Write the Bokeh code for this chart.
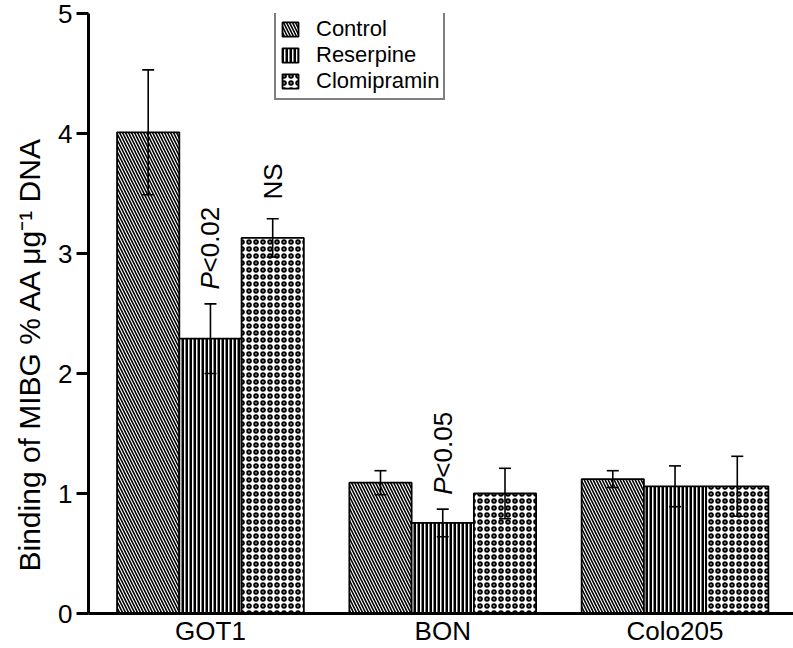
import numpy as np
from bokeh.plotting import figure
from bokeh.models import (ColumnDataSource, Whisker, TeeHead, Legend, LegendItem,
                          FixedTicker, Range1d, Label, Title)
from bokeh.embed import file_html
from bokeh.resources import INLINE

# ---- data ----
cell_lines = ["GOT1", "BON", "Colo205"]
treatments = ["Control", "Reserpine", "Clomipramin"]
control_mean = [4.01, 1.09, 1.12]
control_err = [0.52, 0.10, 0.07]
reserpine_mean = [2.29, 0.755, 1.06]
reserpine_err = [0.29, 0.115, 0.17]
clomipramin_mean = [3.13, 1.00, 1.06]
clomipramin_err = [0.16, 0.21, 0.25]
annotations = ["P", "<0.02", "NS", "P", "<0.05"]
y_ticks = [0, 1, 2, 3, 4, 5]
y_label = "Binding of MIBG % AA μg⁻¹ DNA"

FONT = "Liberation Sans"
BAR_W = 0.268
offsets = [-BAR_W, 0.0, BAR_W]
hatches = ["\\", "|", "o"]
hscale = [6, 4, 7]
hweight = [1.6, 3.0, 2.0]

p = figure(width=793, height=648, output_backend="svg", toolbar_location=None,
           x_range=Range1d(-0.525, 2.51), y_range=Range1d(0, 5),
           min_border_left=88, min_border_right=0, min_border_top=13, min_border_bottom=30)
p.grid.visible = False
p.outline_line_color = None
p.background_fill_color = "white"

series = [(control_mean, control_err), (reserpine_mean, reserpine_err),
          (clomipramin_mean, clomipramin_err)]
renderers = []
group_x = np.arange(len(cell_lines))
for i, (m, e) in enumerate(series):
    x = group_x + offsets[i]
    m = np.array(m); e = np.array(e)
    src = ColumnDataSource(dict(x=x, top=m, upper=m + e, lower=m - e))
    r = p.vbar(x="x", top="top", width=BAR_W, source=src, fill_color="white",
               line_color="black", line_width=1.8,
               hatch_pattern=hatches[i], hatch_color="black",
               hatch_scale=hscale[i], hatch_weight=hweight[i])
    renderers.append(r)
    w = Whisker(base="x", upper="upper", lower="lower", source=src,
                line_color="black", line_width=1.6, level="overlay",
                upper_head=TeeHead(size=12, line_color="black", line_width=1.6),
                lower_head=TeeHead(size=12, line_color="black", line_width=1.6))
    p.add_layout(w)

# significance annotations (rotated)
ann_specs = [
    (annotations[0], group_x[0] + offsets[1], 2.70, 0, "italic"),
    (annotations[1], group_x[0] + offsets[1], 2.70, 17, "normal"),
    (annotations[2], group_x[0] + offsets[2], 3.45, 0, "normal"),
    (annotations[3], group_x[1] + offsets[1], 0.99, 0, "italic"),
    (annotations[4], group_x[1] + offsets[1], 0.99, 17, "normal"),
]
for txt, x, y, yoff, style in ann_specs:
    p.add_layout(Label(x=x, y=y, y_offset=yoff, text=txt, angle=np.pi / 2,
                       text_align="left", text_baseline="middle",
                       text_font=FONT, text_font_size="26px",
                       text_font_style=style, text_color="black"))

# y-axis title as a side title (allows shifting it along the axis)
p.add_layout(Title(text=y_label, align="left", offset=42, standoff=20,
                   text_font=FONT, text_font_size="30px", text_font_style="normal",
                   text_color="black"), "left")

# axes
p.yaxis.ticker = FixedTicker(ticks=y_ticks)
p.yaxis.minor_tick_line_color = None
p.yaxis.axis_line_width = 3
p.yaxis.major_tick_line_width = 3
p.yaxis.major_tick_out = 12
p.yaxis.major_tick_in = 0
p.yaxis.major_label_text_font = FONT
p.yaxis.major_label_text_font_size = "26px"
p.yaxis.major_label_text_color = "black"
p.yaxis.major_label_standoff = 4

p.xaxis.ticker = FixedTicker(ticks=list(group_x))
p.xaxis.major_label_overrides = {int(i): n for i, n in zip(group_x, cell_lines)}
p.xaxis.major_tick_line_color = None
p.xaxis.major_tick_out = 0
p.xaxis.major_tick_in = 0
p.xaxis.minor_tick_line_color = None
p.xaxis.minor_tick_out = 0
p.xaxis.axis_line_width = 3
p.xaxis.major_label_text_font = FONT
p.xaxis.major_label_text_font_size = "26px"
p.xaxis.major_label_text_color = "black"
p.xaxis.major_label_standoff = 2

legend = Legend(items=[LegendItem(label=t, renderers=[r]) for t, r in zip(treatments, renderers)],
                location=(186, 513), orientation="vertical",
                label_text_font=FONT, label_text_font_size="22px", label_text_color="black",
                glyph_width=20, glyph_height=18, label_standoff=16,
                label_height=22, spacing=0, padding=4, margin=0,
                border_line_color="black", border_line_width=2.5,
                background_fill_color="white", background_fill_alpha=1)
p.add_layout(legend)

open("out.html", "w").write(file_html(p, INLINE))
